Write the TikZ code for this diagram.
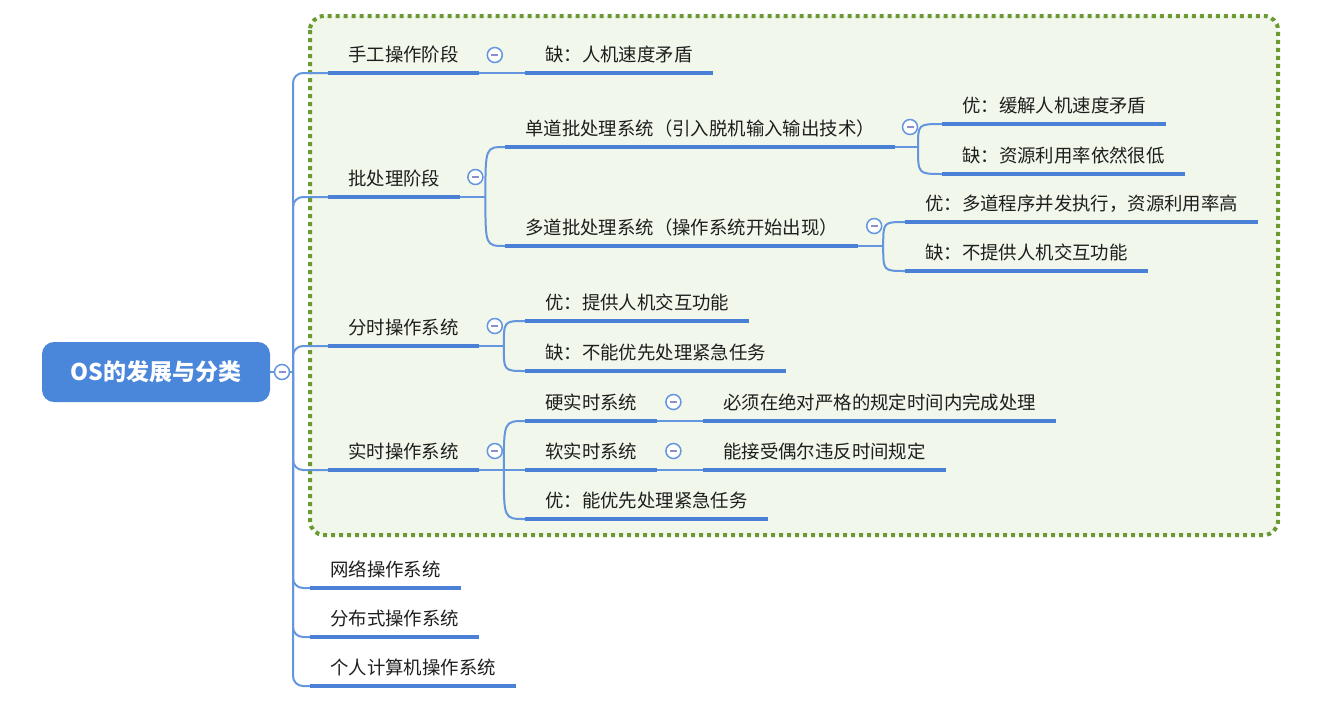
\documentclass[tikz,border=0pt]{standalone}
\usepackage{fontspec}
\setmainfont{Noto Sans CJK SC}
\definecolor{ulc}{HTML}{4A80D6}
\definecolor{cnc}{HTML}{6396DE}
\definecolor{rootblue}{HTML}{4A86D9}
\definecolor{boxfill}{HTML}{F1F7EA}
\definecolor{boxdot}{HTML}{6A9A30}
\definecolor{minusc}{HTML}{8C8FCB}
\definecolor{txt}{HTML}{1E1E1E}
\newcommand{\lblfont}{\fontsize{18.4}{20}\selectfont}
\newcommand{\rootfont}{\fontsize{23}{26}\selectfont\bfseries}
\tikzset{
  lbl/.style={font=\lblfont, text=txt, inner xsep=20, inner ysep=7, text height=14, text depth=4, anchor=south west},
  uline/.style={draw=ulc, line width=4.5, line cap=butt},
  conn/.style={draw=cnc, line width=2},
  tog/.style={circle, draw=cnc, line width=1.5, fill=white, minimum size=15, inner sep=0,
    path picture={\draw[minusc, line width=2] ([xshift=-3.5]path picture bounding box.center) -- ([xshift=3.5]path picture bounding box.center);}},
  rootbox/.style={fill=rootblue, rounded corners=12, minimum width=228, minimum height=60, text=white, font=\rootfont, inner sep=0}
}
\begin{document}
\begin{tikzpicture}[x=1pt,y=-1pt]
\useasboundingbox (0,0) rectangle (1337,707);
% green frame
\draw[boxdot, fill=boxfill, line width=4, dash pattern=on 4 off 4, rounded corners=14] (310,16) rectangle (1278,535);

% root
\node[rootbox] (root) at (156,372) {OS的发展与分类};
\node[tog] (rc) at (282,372) {};
\coordinate (trunk) at (293,372);

% level 1
\node[lbl] (n1) at (328,73) {手工操作阶段};
\node[lbl] (n2) at (328,197) {批处理阶段};
\node[lbl] (n3) at (328,346) {分时操作系统};
\node[lbl] (n4) at (328,470) {实时操作系统};
\node[lbl] (n5) at (310,588) {网络操作系统};
\node[lbl] (n6) at (310,637) {分布式操作系统};
\node[lbl] (n7) at (310,686) {个人计算机操作系统};

% level 2
\node[lbl] (n11) at (525,73) {缺：人机速度矛盾};
\node[lbl] (n21) at (505,147) {单道批处理系统（引入脱机输入输出技术）};
\node[lbl] (n22) at (505,246) {多道批处理系统（操作系统开始出现）};
\node[lbl] (n31) at (525,321) {优：提供人机交互功能};
\node[lbl] (n32) at (525,371) {缺：不能优先处理紧急任务};
\node[lbl] (n41) at (525,421) {硬实时系统};
\node[lbl] (n42) at (525,470) {软实时系统};
\node[lbl] (n43) at (525,519) {优：能优先处理紧急任务};

% level 3
\node[lbl] (n211) at (942,124) {优：缓解人机速度矛盾};
\node[lbl] (n212) at (942,174) {缺：资源利用率依然很低};
\node[lbl] (n221) at (905,222) {优：多道程序并发执行，资源利用率高};
\node[lbl] (n222) at (905,271) {缺：不提供人机交互功能};
\node[lbl] (n411) at (703,421) {必须在绝对严格的规定时间内完成处理};
\node[lbl] (n421) at (703,470) {能接受偶尔违反时间规定};

% underlines
\foreach \n in {n1,n2,n3,n4,n5,n6,n7,n11,n21,n22,n31,n32,n41,n42,n43,n211,n212,n221,n222,n411,n421}
  \draw[uline] (\n.south west) -- (\n.south east);

% trunk connectors
\draw[conn] (root.east) -- (rc.west);
\draw[conn] (rc.east) -- (trunk);
\foreach \n in {n1,n2,n3,n4,n5,n6,n7}
  \draw[conn, rounded corners=10] (trunk) |- (\n.south west);

% single-child connectors
\draw[conn] (n1.south east) -- (n11.south west);
\draw[conn] (n41.south east) -- (n411.south west);
\draw[conn] (n42.south east) -- (n421.south west);

% forks
\draw[conn] (n2.south east) -- ++(25,0) coordinate (f2);
\foreach \c in {n21,n22}
  \draw[conn] (f2) .. controls (f2 |- \c.south west) .. (\c.south west);
\draw[conn] (n21.south east) -- ++(23,0) coordinate (f21);
\foreach \c in {n211,n212}
  \draw[conn] (f21) .. controls (f21 |- \c.south west) .. (\c.south west);
\draw[conn] (n22.south east) -- ++(25,0) coordinate (f22);
\foreach \c in {n221,n222}
  \draw[conn] (f22) .. controls (f22 |- \c.south west) .. (\c.south west);
\draw[conn] (n3.south east) -- ++(25,0) coordinate (f3);
\foreach \c in {n31,n32}
  \draw[conn] (f3) .. controls (f3 |- \c.south west) .. (\c.south west);
\draw[conn] (n4.south east) -- ++(25,0) coordinate (f4);
\foreach \c in {n41,n42,n43}
  \draw[conn] (f4) .. controls (f4 |- \c.south west) .. (\c.south west);

% toggles
\node[tog] (t1) at ([shift={(16,-18)}]n1.south east) {};
\node[tog] (t2) at ([shift={(15,-20)}]n2.south east) {};
\node[tog] (t21) at ([shift={(15,-20)}]n21.south east) {};
\node[tog] (t22) at ([shift={(16,-20)}]n22.south east) {};
\node[tog] (t3) at ([shift={(16,-20)}]n3.south east) {};
\node[tog] (t4) at ([shift={(16,-19)}]n4.south east) {};
\node[tog] (t41) at ([shift={(16,-19)}]n41.south east) {};
\node[tog] (t42) at ([shift={(16,-19)}]n42.south east) {};
\end{tikzpicture}
\end{document}
